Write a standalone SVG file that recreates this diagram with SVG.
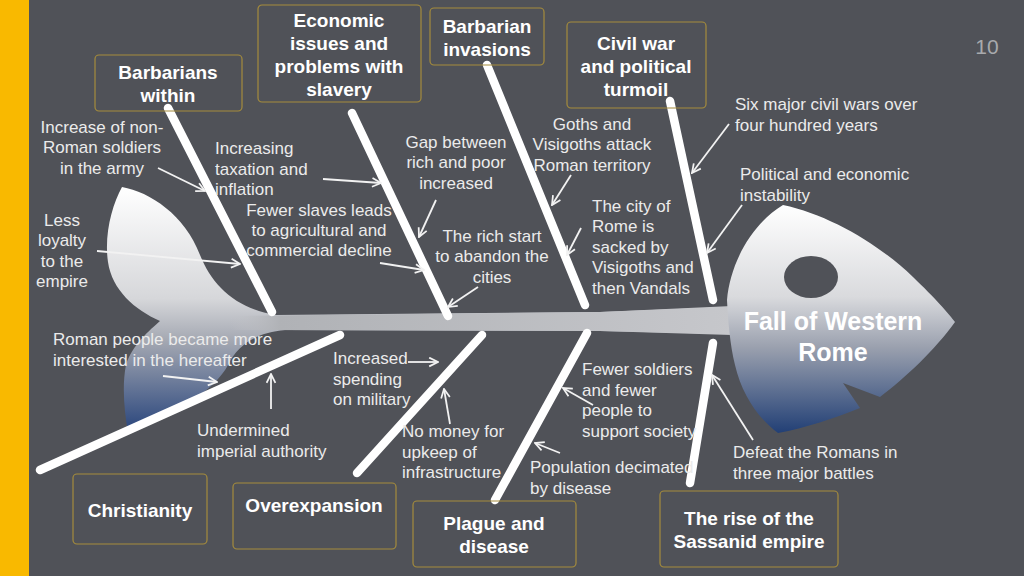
<svg xmlns="http://www.w3.org/2000/svg" width="1024" height="576" viewBox="0 0 1024 576">
<defs>
<style>
.box{fill:none;stroke:#a58c3c;stroke-width:1.2}
.bt{font-family:"Liberation Sans",Arial,sans-serif;font-weight:bold;font-size:19px;fill:#ffffff;text-anchor:middle}
.lb{font-family:"Liberation Sans",Arial,sans-serif;font-size:17px;fill:#ebebeb}
.c{text-anchor:middle}
.bone{stroke:#ffffff;stroke-width:8.5;stroke-linecap:round;fill:none}
.arr{stroke:#f2f2f2;stroke-width:1.8;fill:none;marker-end:url(#ah)}
</style>
<marker id="ah" viewBox="0 0 10 10" refX="9" refY="5" markerWidth="11" markerHeight="11" markerUnits="userSpaceOnUse" orient="auto">
<path d="M1,1 L9,5 L1,9" fill="none" stroke="#f2f2f2" stroke-width="1.6"/>
</marker>
<linearGradient id="hg" gradientUnits="userSpaceOnUse" x1="0" y1="205" x2="0" y2="435">
<stop offset="0" stop-color="#ffffff"/>
<stop offset="0.4" stop-color="#d9dadd"/>
<stop offset="0.62" stop-color="#9aa0ae"/>
<stop offset="1" stop-color="#1f3d74"/>
</linearGradient>
<linearGradient id="tg" gradientUnits="userSpaceOnUse" x1="0" y1="187" x2="0" y2="435">
<stop offset="0" stop-color="#ffffff"/>
<stop offset="0.45" stop-color="#d6d7da"/>
<stop offset="0.62" stop-color="#a4a8b2"/>
<stop offset="1" stop-color="#24417a"/>
</linearGradient>
<linearGradient id="sg" gradientUnits="userSpaceOnUse" x1="230" y1="0" x2="732" y2="0">
<stop offset="0" stop-color="#c4c5c9" stop-opacity="0"/>
<stop offset="0.1" stop-color="#b0b2b6"/>
<stop offset="1" stop-color="#c6c7cb"/>
</linearGradient>
</defs>
<rect width="1024" height="576" fill="#505258"/>
<rect width="29" height="576" fill="#f9b900"/>
<text x="987" y="54" font-family="'Liberation Sans',Arial,sans-serif" font-size="21" fill="#a8aaad" text-anchor="middle">10</text>

<g id="fish">
<path d="M122,187 C150,192 185,215 200,255 C212,285 235,308 275,315 L600,312 L730,307 L730,334 L600,331 L285,330 C255,333 238,345 228,365 C215,390 175,415 128,432 C124,410 122,385 126,365 C132,345 150,330 160,321 C135,310 112,290 108,262 C104,235 112,205 122,187 Z" fill="url(#tg)"/>
<path d="M230,316 L600,312 L732,306 L732,335 L600,331 L230,330 Z" fill="url(#sg)"/>
<path d="M783,205 C830,215 880,245 913,277 C935,298 950,315 955,322 C935,350 905,378 880,397 L843,383 L860,408 C835,418 805,428 778,433 C758,418 742,395 735,365 C730,345 728,320 727,300 C730,265 750,225 783,205 Z" fill="url(#hg)"/>
<ellipse cx="811" cy="277" rx="27" ry="21" fill="#505258"/>
<text x="833" y="330" class="bt" style="font-size:25px">Fall of Western</text>
<text x="833" y="361" class="bt" style="font-size:25px">Rome</text>
</g>

<g id="bones">
<line class="bone" x1="168" y1="108" x2="272" y2="312"/>
<line class="bone" x1="352" y1="113" x2="448" y2="316"/>
<line class="bone" x1="487" y1="65" x2="585" y2="305"/>
<line class="bone" x1="670" y1="101" x2="713" y2="300"/>
<line class="bone" x1="40" y1="470" x2="340" y2="335"/>
<line class="bone" x1="357" y1="473" x2="482" y2="335"/>
<line class="bone" x1="587" y1="333" x2="495" y2="500"/>
<line class="bone" x1="713" y1="343" x2="690" y2="483"/>
</g>

<g id="connectors">
<line class="arr" x1="158" y1="168" x2="205" y2="191"/>
<line class="arr" x1="323" y1="179" x2="381" y2="183"/>
<line class="arr" x1="380" y1="263" x2="424" y2="270"/>
<line class="arr" x1="97" y1="251" x2="240" y2="264"/>
<line class="arr" x1="436" y1="200" x2="419" y2="237"/>
<line class="arr" x1="571" y1="175" x2="552" y2="205"/>
<line class="arr" x1="478" y1="287" x2="448" y2="307"/>
<line class="arr" x1="581" y1="228" x2="567" y2="255"/>
<line class="arr" x1="729" y1="124" x2="692" y2="173"/>
<line class="arr" x1="742" y1="205" x2="707" y2="253"/>
<line class="arr" x1="163" y1="376" x2="217" y2="382"/>
<line class="arr" x1="271" y1="409" x2="271" y2="374"/>
<line class="arr" x1="408" y1="362" x2="438" y2="362"/>
<line class="arr" x1="450" y1="424" x2="444" y2="389"/>
<line class="arr" x1="593" y1="405" x2="563" y2="388"/>
<line class="arr" x1="560" y1="453" x2="535" y2="443"/>
<line class="arr" x1="753" y1="440" x2="712" y2="375"/>
</g>

<g id="box-barbarians-within">
<rect class="box" x="95" y="55" width="147" height="56" rx="4"/>
<text class="bt" x="168" y="79">Barbarians</text>
<text class="bt" x="168" y="102">within</text>
</g>
<g id="box-economic">
<rect class="box" x="258" y="5" width="163" height="97" rx="4"/>
<text class="bt" x="339" y="27">Economic</text>
<text class="bt" x="339" y="50">issues and</text>
<text class="bt" x="339" y="73">problems with</text>
<text class="bt" x="339" y="96">slavery</text>
</g>
<g id="box-invasions">
<rect class="box" x="430" y="8" width="114" height="57" rx="4"/>
<text class="bt" x="487" y="33">Barbarian</text>
<text class="bt" x="487" y="56">invasions</text>
</g>
<g id="box-civil-war">
<rect class="box" x="567" y="22" width="139" height="86" rx="4"/>
<text class="bt" x="636" y="50">Civil war</text>
<text class="bt" x="636" y="73">and political</text>
<text class="bt" x="636" y="96">turmoil</text>
</g>
<g id="box-christianity">
<rect class="box" x="73" y="474" width="134" height="70" rx="4"/>
<text class="bt" x="140" y="517">Christianity</text>
</g>
<g id="box-overexpansion">
<rect class="box" x="233" y="483" width="163" height="66" rx="4"/>
<text class="bt" x="314" y="512">Overexpansion</text>
</g>
<g id="box-plague">
<rect class="box" x="413" y="501" width="163" height="66" rx="4"/>
<text class="bt" x="494" y="530">Plague and</text>
<text class="bt" x="494" y="553">disease</text>
</g>
<g id="box-sassanid">
<rect class="box" x="660" y="491" width="178" height="76" rx="4"/>
<text class="bt" x="749" y="525">The rise of the</text>
<text class="bt" x="749" y="548">Sassanid empire</text>
</g>

<g id="labels">
<text class="lb c" x="102"><tspan x="102" y="133">Increase of non-</tspan><tspan x="102" y="153">Roman soldiers</tspan><tspan x="102" y="174">in the army</tspan></text>
<text class="lb" x="215"><tspan x="215" y="154">Increasing</tspan><tspan x="215" y="175">taxation and</tspan><tspan x="215" y="195">inflation</tspan></text>
<text class="lb c" x="319"><tspan x="319" y="216">Fewer slaves leads</tspan><tspan x="319" y="236">to agricultural and</tspan><tspan x="319" y="256">commercial decline</tspan></text>
<text class="lb c" x="62"><tspan x="62" y="226">Less</tspan><tspan x="62" y="246">loyalty</tspan><tspan x="62" y="267">to the</tspan><tspan x="62" y="287">empire</tspan></text>
<text class="lb c" x="456"><tspan x="456" y="148">Gap between</tspan><tspan x="456" y="168">rich and poor</tspan><tspan x="456" y="189">increased</tspan></text>
<text class="lb c" x="592"><tspan x="592" y="130">Goths and</tspan><tspan x="592" y="150">Visigoths attack</tspan><tspan x="592" y="171">Roman territory</tspan></text>
<text class="lb c" x="492"><tspan x="492" y="242">The rich start</tspan><tspan x="492" y="262">to abandon the</tspan><tspan x="492" y="283">cities</tspan></text>
<text class="lb" x="592"><tspan x="592" y="212">The city of</tspan><tspan x="592" y="232">Rome is</tspan><tspan x="592" y="253">sacked by</tspan><tspan x="592" y="273">Visigoths and</tspan><tspan x="592" y="294">then Vandals</tspan></text>
<text class="lb" x="735"><tspan x="735" y="110">Six major civil wars over</tspan><tspan x="735" y="131">four hundred years</tspan></text>
<text class="lb" x="740"><tspan x="740" y="180">Political and economic</tspan><tspan x="740" y="201">instability</tspan></text>
<text class="lb" x="53"><tspan x="53" y="345">Roman people became more</tspan><tspan x="53" y="366">interested in the hereafter</tspan></text>
<text class="lb" x="197"><tspan x="197" y="436">Undermined</tspan><tspan x="197" y="457">imperial authority</tspan></text>
<text class="lb" x="333"><tspan x="333" y="364">Increased</tspan><tspan x="333" y="385">spending</tspan><tspan x="333" y="405">on military</tspan></text>
<text class="lb" x="402"><tspan x="402" y="437">No money for</tspan><tspan x="402" y="458">upkeep of</tspan><tspan x="402" y="478">infrastructure</tspan></text>
<text class="lb" x="582"><tspan x="582" y="375">Fewer soldiers</tspan><tspan x="582" y="396">and fewer</tspan><tspan x="582" y="416">people to</tspan><tspan x="582" y="437">support society</tspan></text>
<text class="lb" x="530"><tspan x="530" y="473">Population decimated</tspan><tspan x="530" y="494">by disease</tspan></text>
<text class="lb" x="733"><tspan x="733" y="458">Defeat the Romans in</tspan><tspan x="733" y="479">three major battles</tspan></text>
</g>
</svg>
